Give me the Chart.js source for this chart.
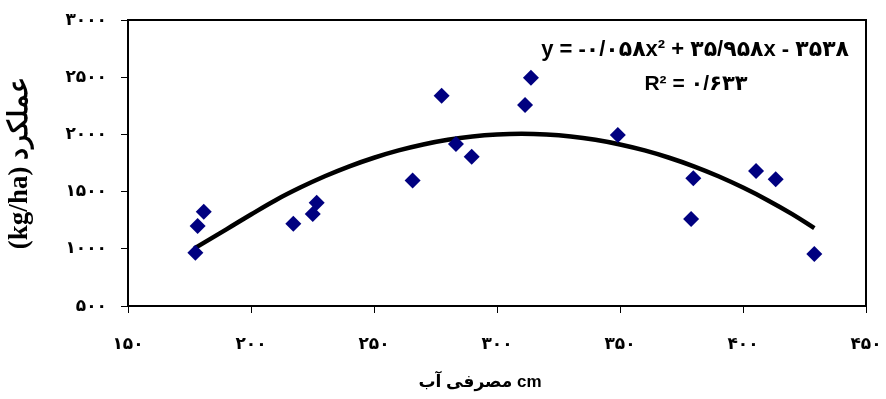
<!DOCTYPE html>
<html>
<head>
<meta charset="utf-8">
<script src="https://cdn.jsdelivr.net/npm/chart.js@4"></script>
<style>
  body { margin: 0; background: #fff; }
  canvas { display: block; }
</style>
</head>
<body>
<canvas id="chart" width="886" height="399"></canvas>
<script>
// water used (cm) and yield (kg/ha)
const waterUse = [177.4, 178.3, 180.8, 217.2, 225.1, 226.7, 265.7, 277.5, 283.3, 289.7, 311.4, 313.8, 349.1, 379.8, 378.9, 405.3, 413.3, 429.0];
const yieldKg  = [966, 1199, 1324, 1219, 1304, 1403, 1597, 2338, 1916, 1805, 2257, 2496, 1995, 1616, 1260, 1680, 1608, 955];

// polynomial trendline as drawn
const trendX = [177, 190, 200, 210, 220, 230, 240, 250, 260, 270, 280, 290, 300, 310, 320, 330, 340, 350, 360, 370, 380, 390, 400, 410, 420, 429];
const trendY = [1004, 1170, 1300, 1425, 1535, 1634, 1721, 1796, 1860, 1912, 1953, 1982, 1999, 2005, 1999, 1982, 1953, 1912, 1860, 1796, 1721, 1634, 1535, 1425, 1303, 1180];

const equationText = 'y = -۰/۰۵۸x² + ۳۵/۹۵۸x - ۳۵۳۸';
const r2Text = 'R² = ۰/۶۳۳';
const xTitle = 'مصرفی آب cm';
const yTitle = '(kg/ha) عملکرد';

const faDigits = '۰۱۲۳۴۵۶۷۸۹';
function toFa(n) {
    return String(n).replace(/[0-9]/g, d => faDigits[+d]);
}

const sansFamily = 'Arial, "Liberation Sans", "DejaVu Sans", sans-serif';

const extras = {
    id: 'extras',
    afterDraw(chart) {
        const { ctx, chartArea: a } = chart;
        ctx.save();
        ctx.strokeStyle = '#000';
        ctx.lineWidth = 2;
        ctx.strokeRect(a.left, a.top, a.right - a.left, a.bottom - a.top);

        ctx.fillStyle = '#000';
        ctx.textBaseline = 'middle';
        ctx.font = 'bold 22px ' + sansFamily;
        ctx.textAlign = 'right';
        ctx.fillText(equationText, 849, 50);
        ctx.font = 'bold 21px ' + sansFamily;
        ctx.textAlign = 'center';
        ctx.fillText(r2Text, 696, 84);
        ctx.font = 'bold 17px ' + sansFamily;
        ctx.fillText(xTitle, 480, 382);
        ctx.restore();
    }
};

const tickFont = { family: sansFamily, size: 17, weight: 'bold' };

new Chart(document.getElementById('chart'), {
    type: 'scatter',
    data: {
        datasets: [
            {
                label: 'yield',
                data: waterUse.map((x, i) => ({ x: x, y: yieldKg[i] })),
                pointStyle: 'rectRot',
                pointRadius: 8,
                pointHoverRadius: 8,
                backgroundColor: '#000080',
                borderColor: '#000080',
                borderWidth: 0
            },
            {
                label: 'trend',
                data: trendX.map((x, i) => ({ x: x, y: trendY[i] })),
                showLine: true,
                pointRadius: 0,
                borderColor: '#000',
                borderWidth: 4.5,
                tension: 0.4,
                fill: false
            }
        ]
    },
    options: {
        responsive: false,
        animation: false,
        layout: { padding: { top: 20, right: 20, left: 0, bottom: 0 } },
        plugins: {
            legend: { display: false },
            tooltip: { enabled: false }
        },
        scales: {
            x: {
                type: 'linear',
                min: 150,
                max: 450,
                afterFit: s => { s.height = 93; s.paddingLeft = 0; s.paddingRight = 0; },
                ticks: {
                    stepSize: 50,
                    padding: 21,
                    color: '#000',
                    font: tickFont,
                    callback: v => toFa(v)
                },
                grid: { drawOnChartArea: false, tickLength: 7, color: '#000' },
                border: { display: false }
            },
            y: {
                min: 500,
                max: 3000,
                afterFit: s => { s.width = 128; s.paddingTop = 0; s.paddingBottom = 0; },
                ticks: {
                    stepSize: 500,
                    padding: 14,
                    color: '#000',
                    font: tickFont,
                    callback: v => toFa(v)
                },
                grid: { drawOnChartArea: false, tickLength: 7, color: '#000' },
                border: { display: false },
                title: {
                    display: true,
                    text: yTitle,
                    color: '#000',
                    font: { family: '"Times New Roman", "Liberation Serif", "DejaVu Serif", serif', size: 27, weight: 'bold' },
                    padding: { top: 4, bottom: 0 }
                }
            }
        }
    },
    plugins: [extras]
});
</script>
</body>
</html>
